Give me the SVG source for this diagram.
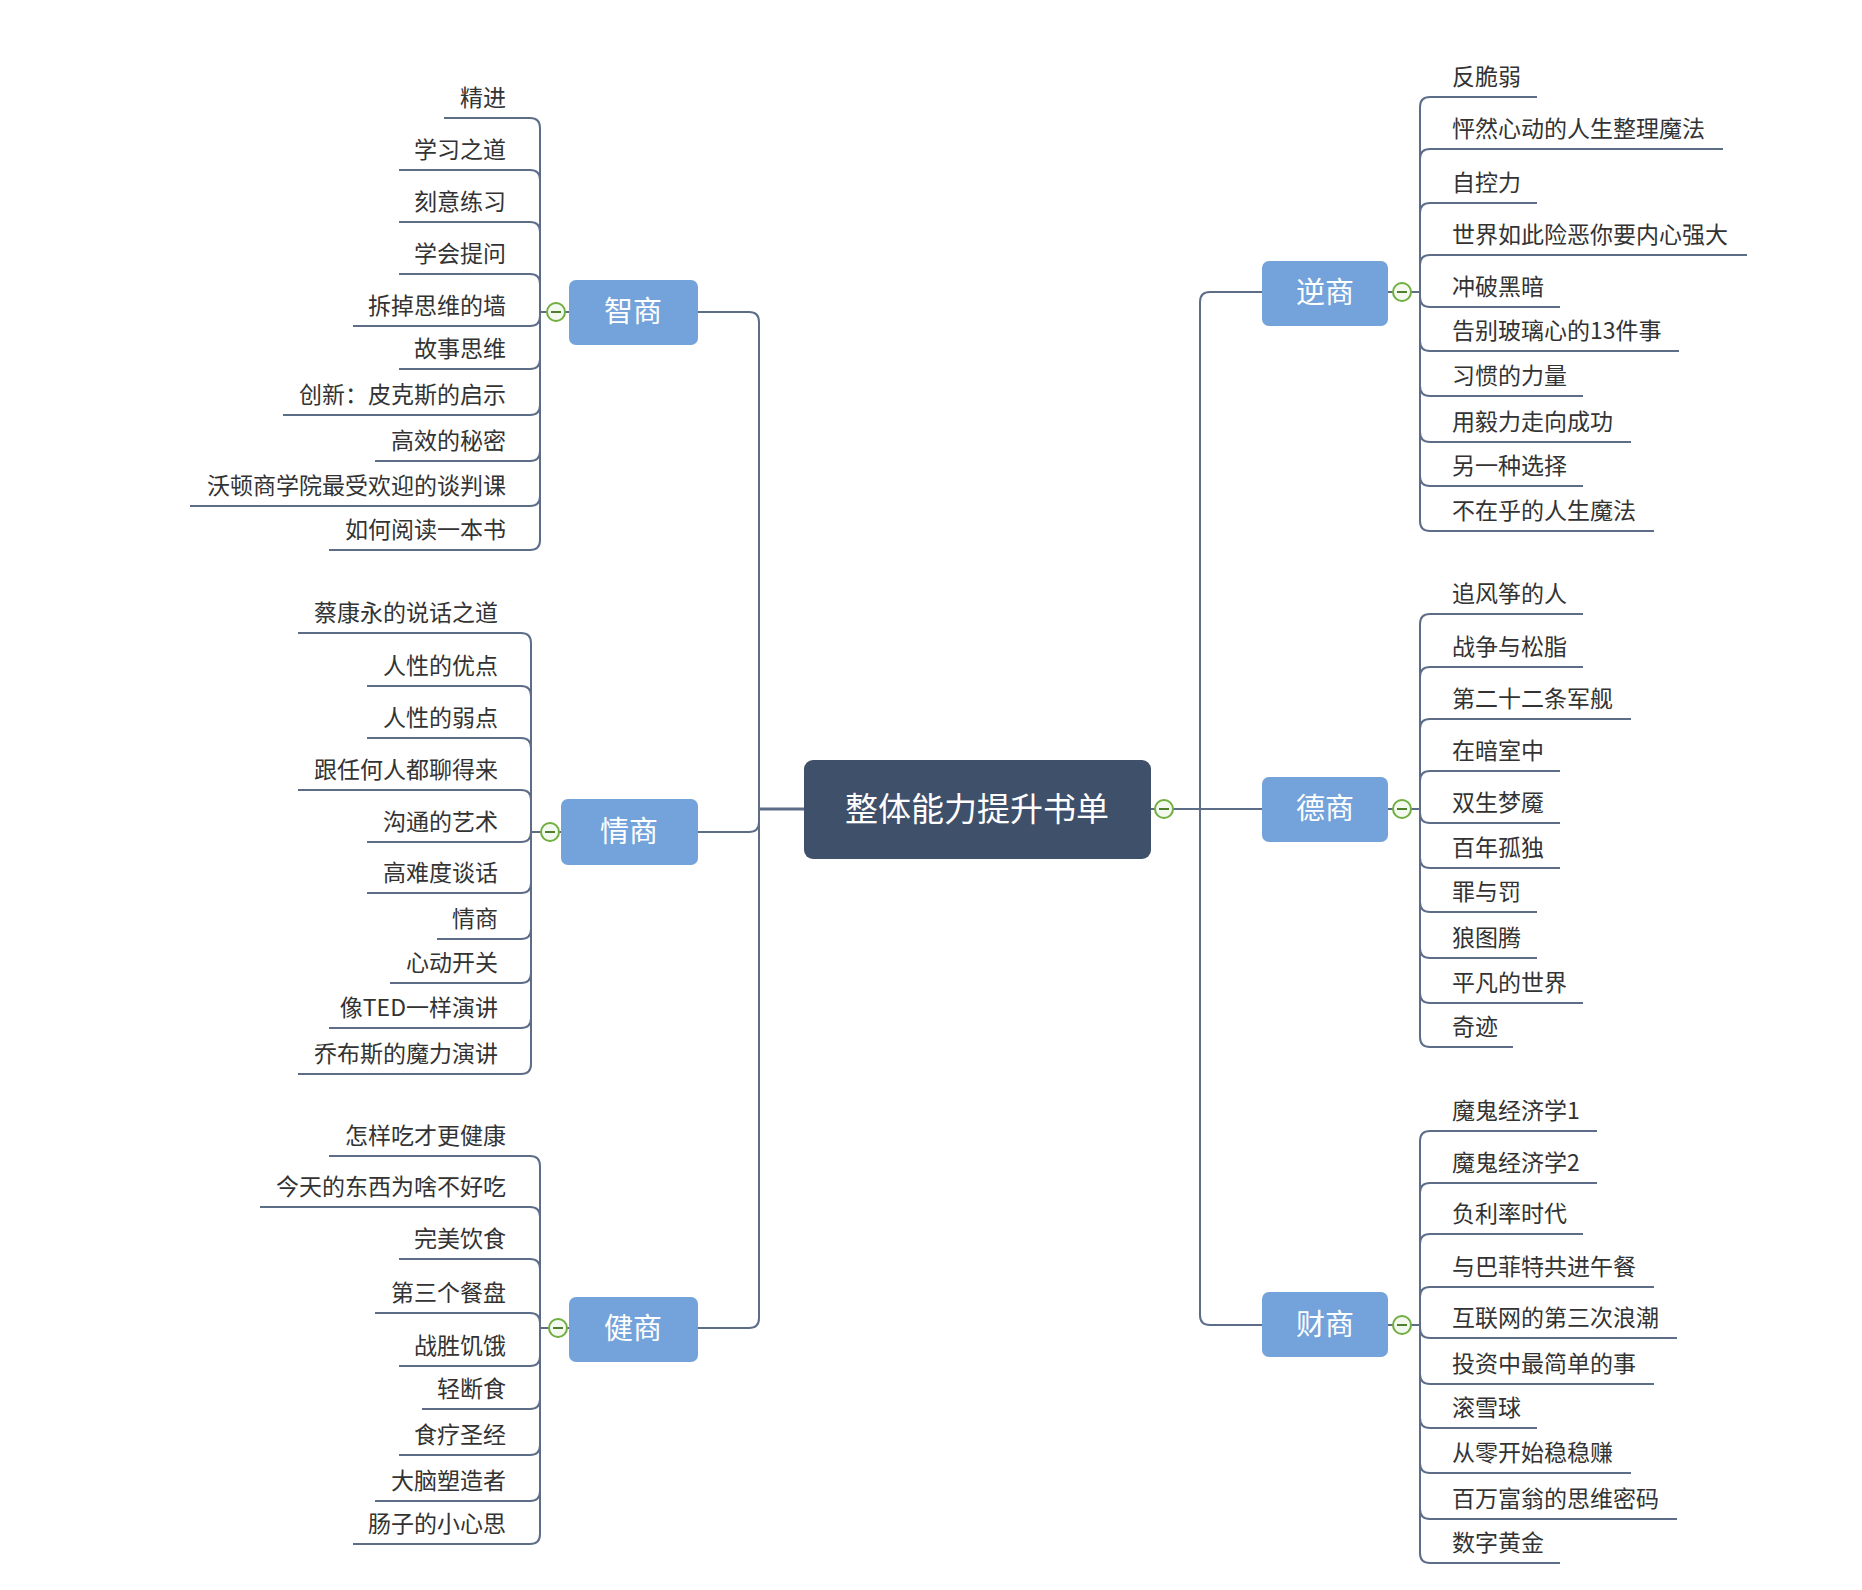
<svg xmlns="http://www.w3.org/2000/svg" width="1862" height="1590" viewBox="0 0 1862 1590">
<style>
.ln{fill:none;stroke:#5d6d88;stroke-width:2}
.main{fill:none;stroke:#5d6d88;stroke-width:3}
.it{font-family:"Noto Sans CJK SC","Noto Sans",sans-serif;font-size:23px;fill:#333333}
.l{text-anchor:end}
.sub rect{fill:#73a3da}
.sub text{font-family:"Noto Sans CJK SC","Noto Sans",sans-serif;font-size:29px;fill:#ffffff;text-anchor:middle}
.tg circle{fill:#f4f9ef;stroke:#6fae3f;stroke-width:2}
.tg line{stroke:#4f7f2c;stroke-width:2}
</style>
<rect x="0" y="0" width="1862" height="1590" fill="#ffffff"/>
<g id="connectors">
<path class="main" d="M759,809 H804"/>
<path class="ln" d="M698,312 H749 Q759,312 759,322 V1318 Q759,1328 749,1328 H698"/>
<path class="ln" d="M698,832 H749 Q759,832 759,822"/>
<path class="ln" d="M1151,809 H1262"/>
<path class="ln" d="M1262,292 H1210 Q1200,292 1200,302 V1315 Q1200,1325 1210,1325 H1262"/>
<path class="ln" d="M569,312 H540"/>
<path class="ln" d="M561,832 H531"/>
<path class="ln" d="M569,1328 H540"/>
<path class="ln" d="M1388,292 H1420"/>
<path class="ln" d="M1388,809 H1420"/>
<path class="ln" d="M1388,1325 H1420"/>
<!-- 智商 children -->
<path class="ln" d="M540,312 V128 Q540,118 530,118 H444"/>
<path class="ln" d="M540,312 V180 Q540,170 530,170 H399"/>
<path class="ln" d="M540,312 V232 Q540,222 530,222 H399"/>
<path class="ln" d="M540,312 V284 Q540,274 530,274 H399"/>
<path class="ln" d="M540,312 V316 Q540,326 530,326 H353"/>
<path class="ln" d="M540,312 V359 Q540,369 530,369 H399"/>
<path class="ln" d="M540,312 V405 Q540,415 530,415 H283"/>
<path class="ln" d="M540,312 V451 Q540,461 530,461 H375"/>
<path class="ln" d="M540,312 V496 Q540,506 530,506 H190"/>
<path class="ln" d="M540,312 V540 Q540,550 530,550 H329"/>
<!-- 情商 children -->
<path class="ln" d="M531,832 V643 Q531,633 521,633 H298"/>
<path class="ln" d="M531,832 V696 Q531,686 521,686 H367"/>
<path class="ln" d="M531,832 V748 Q531,738 521,738 H367"/>
<path class="ln" d="M531,832 V800 Q531,790 521,790 H298"/>
<path class="ln" d="M531,832 V832 Q531,842 521,842 H367"/>
<path class="ln" d="M531,832 V883 Q531,893 521,893 H367"/>
<path class="ln" d="M531,832 V929 Q531,939 521,939 H437"/>
<path class="ln" d="M531,832 V973 Q531,983 521,983 H390"/>
<path class="ln" d="M531,832 V1018 Q531,1028 521,1028 H329"/>
<path class="ln" d="M531,832 V1064 Q531,1074 521,1074 H298"/>
<!-- 健商 children -->
<path class="ln" d="M540,1328 V1166 Q540,1156 530,1156 H329"/>
<path class="ln" d="M540,1328 V1217 Q540,1207 530,1207 H260"/>
<path class="ln" d="M540,1328 V1269 Q540,1259 530,1259 H399"/>
<path class="ln" d="M540,1328 V1323 Q540,1313 530,1313 H375"/>
<path class="ln" d="M540,1328 V1356 Q540,1366 530,1366 H399"/>
<path class="ln" d="M540,1328 V1399 Q540,1409 530,1409 H422"/>
<path class="ln" d="M540,1328 V1445 Q540,1455 530,1455 H399"/>
<path class="ln" d="M540,1328 V1491 Q540,1501 530,1501 H375"/>
<path class="ln" d="M540,1328 V1534 Q540,1544 530,1544 H353"/>
<!-- 逆商 children -->
<path class="ln" d="M1420,292 V107 Q1420,97 1430,97 H1537"/>
<path class="ln" d="M1420,292 V159 Q1420,149 1430,149 H1723"/>
<path class="ln" d="M1420,292 V213 Q1420,203 1430,203 H1537"/>
<path class="ln" d="M1420,292 V265 Q1420,255 1430,255 H1747"/>
<path class="ln" d="M1420,292 V297 Q1420,307 1430,307 H1560"/>
<path class="ln" d="M1420,292 V341 Q1420,351 1430,351 H1679"/>
<path class="ln" d="M1420,292 V386 Q1420,396 1430,396 H1583"/>
<path class="ln" d="M1420,292 V432 Q1420,442 1430,442 H1631"/>
<path class="ln" d="M1420,292 V476 Q1420,486 1430,486 H1583"/>
<path class="ln" d="M1420,292 V521 Q1420,531 1430,531 H1654"/>
<!-- 德商 children -->
<path class="ln" d="M1420,809 V624 Q1420,614 1430,614 H1583"/>
<path class="ln" d="M1420,809 V677 Q1420,667 1430,667 H1583"/>
<path class="ln" d="M1420,809 V729 Q1420,719 1430,719 H1631"/>
<path class="ln" d="M1420,809 V781 Q1420,771 1430,771 H1560"/>
<path class="ln" d="M1420,809 V813 Q1420,823 1430,823 H1560"/>
<path class="ln" d="M1420,809 V858 Q1420,868 1430,868 H1560"/>
<path class="ln" d="M1420,809 V902 Q1420,912 1430,912 H1537"/>
<path class="ln" d="M1420,809 V948 Q1420,958 1430,958 H1537"/>
<path class="ln" d="M1420,809 V993 Q1420,1003 1430,1003 H1583"/>
<path class="ln" d="M1420,809 V1037 Q1420,1047 1430,1047 H1513"/>
<!-- 财商 children -->
<path class="ln" d="M1420,1325 V1141 Q1420,1131 1430,1131 H1597"/>
<path class="ln" d="M1420,1325 V1193 Q1420,1183 1430,1183 H1597"/>
<path class="ln" d="M1420,1325 V1244 Q1420,1234 1430,1234 H1583"/>
<path class="ln" d="M1420,1325 V1297 Q1420,1287 1430,1287 H1654"/>
<path class="ln" d="M1420,1325 V1328 Q1420,1338 1430,1338 H1677"/>
<path class="ln" d="M1420,1325 V1374 Q1420,1384 1430,1384 H1654"/>
<path class="ln" d="M1420,1325 V1418 Q1420,1428 1430,1428 H1537"/>
<path class="ln" d="M1420,1325 V1463 Q1420,1473 1430,1473 H1631"/>
<path class="ln" d="M1420,1325 V1509 Q1420,1519 1430,1519 H1677"/>
<path class="ln" d="M1420,1325 V1553 Q1420,1563 1430,1563 H1560"/>
</g>
<g id="center">
<rect x="804" y="760" width="347" height="99" rx="9" fill="#3f506a"/>
<text x="977" y="821" font-family="'Noto Sans CJK SC','Noto Sans',sans-serif" font-size="33" fill="#ffffff" text-anchor="middle">整体能力提升书单</text>
</g>
<g id="toggles" class="tg">
<circle cx="1164" cy="809" r="9"/><line x1="1159" y1="809" x2="1169" y2="809"/>
<circle cx="556" cy="312" r="9"/><line x1="551" y1="312" x2="561" y2="312"/>
<circle cx="550" cy="832" r="9"/><line x1="545" y1="832" x2="555" y2="832"/>
<circle cx="558" cy="1328" r="9"/><line x1="553" y1="1328" x2="563" y2="1328"/>
<circle cx="1402" cy="292" r="9"/><line x1="1397" y1="292" x2="1407" y2="292"/>
<circle cx="1402" cy="809" r="9"/><line x1="1397" y1="809" x2="1407" y2="809"/>
<circle cx="1402" cy="1325" r="9"/><line x1="1397" y1="1325" x2="1407" y2="1325"/>
</g>
<g id="zhishang" class="sub"><rect x="569" y="280" width="129" height="65" rx="7"/><text x="633" y="322">智商</text></g>
<g id="qingshang" class="sub"><rect x="561" y="799" width="137" height="66" rx="7"/><text x="629" y="842">情商</text></g>
<g id="jianshang" class="sub"><rect x="569" y="1297" width="129" height="65" rx="7"/><text x="633" y="1339">健商</text></g>
<g id="nishang" class="sub"><rect x="1262" y="261" width="126" height="65" rx="7"/><text x="1325" y="303">逆商</text></g>
<g id="deshang" class="sub"><rect x="1262" y="777" width="126" height="65" rx="7"/><text x="1325" y="819">德商</text></g>
<g id="caishang" class="sub"><rect x="1262" y="1292" width="126" height="65" rx="7"/><text x="1325" y="1335">财商</text></g>
<g id="zhishang-items" class="it l">
<text x="506" y="106">精进</text>
<text x="506" y="158">学习之道</text>
<text x="506" y="210">刻意练习</text>
<text x="506" y="262">学会提问</text>
<text x="506" y="314">拆掉思维的墙</text>
<text x="506" y="357">故事思维</text>
<text x="506" y="403">创新：皮克斯的启示</text>
<text x="506" y="449">高效的秘密</text>
<text x="506" y="494">沃顿商学院最受欢迎的谈判课</text>
<text x="506" y="538">如何阅读一本书</text>
</g>
<g id="qingshang-items" class="it l">
<text x="498" y="621">蔡康永的说话之道</text>
<text x="498" y="674">人性的优点</text>
<text x="498" y="726">人性的弱点</text>
<text x="498" y="778">跟任何人都聊得来</text>
<text x="498" y="830">沟通的艺术</text>
<text x="498" y="881">高难度谈话</text>
<text x="498" y="927">情商</text>
<text x="498" y="971">心动开关</text>
<text x="498" y="1016">像TED一样演讲</text>
<text x="498" y="1062">乔布斯的魔力演讲</text>
</g>
<g id="jianshang-items" class="it l">
<text x="506" y="1144">怎样吃才更健康</text>
<text x="506" y="1195">今天的东西为啥不好吃</text>
<text x="506" y="1247">完美饮食</text>
<text x="506" y="1301">第三个餐盘</text>
<text x="506" y="1354">战胜饥饿</text>
<text x="506" y="1397">轻断食</text>
<text x="506" y="1443">食疗圣经</text>
<text x="506" y="1489">大脑塑造者</text>
<text x="506" y="1532">肠子的小心思</text>
</g>
<g id="nishang-items" class="it">
<text x="1452" y="85">反脆弱</text>
<text x="1452" y="137">怦然心动的人生整理魔法</text>
<text x="1452" y="191">自控力</text>
<text x="1452" y="243">世界如此险恶你要内心强大</text>
<text x="1452" y="295">冲破黑暗</text>
<text x="1452" y="339">告别玻璃心的13件事</text>
<text x="1452" y="384">习惯的力量</text>
<text x="1452" y="430">用毅力走向成功</text>
<text x="1452" y="474">另一种选择</text>
<text x="1452" y="519">不在乎的人生魔法</text>
</g>
<g id="deshang-items" class="it">
<text x="1452" y="602">追风筝的人</text>
<text x="1452" y="655">战争与松脂</text>
<text x="1452" y="707">第二十二条军舰</text>
<text x="1452" y="759">在暗室中</text>
<text x="1452" y="811">双生梦魇</text>
<text x="1452" y="856">百年孤独</text>
<text x="1452" y="900">罪与罚</text>
<text x="1452" y="946">狼图腾</text>
<text x="1452" y="991">平凡的世界</text>
<text x="1452" y="1035">奇迹</text>
</g>
<g id="caishang-items" class="it">
<text x="1452" y="1119">魔鬼经济学1</text>
<text x="1452" y="1171">魔鬼经济学2</text>
<text x="1452" y="1222">负利率时代</text>
<text x="1452" y="1275">与巴菲特共进午餐</text>
<text x="1452" y="1326">互联网的第三次浪潮</text>
<text x="1452" y="1372">投资中最简单的事</text>
<text x="1452" y="1416">滚雪球</text>
<text x="1452" y="1461">从零开始稳稳赚</text>
<text x="1452" y="1507">百万富翁的思维密码</text>
<text x="1452" y="1551">数字黄金</text>
</g>
</svg>
